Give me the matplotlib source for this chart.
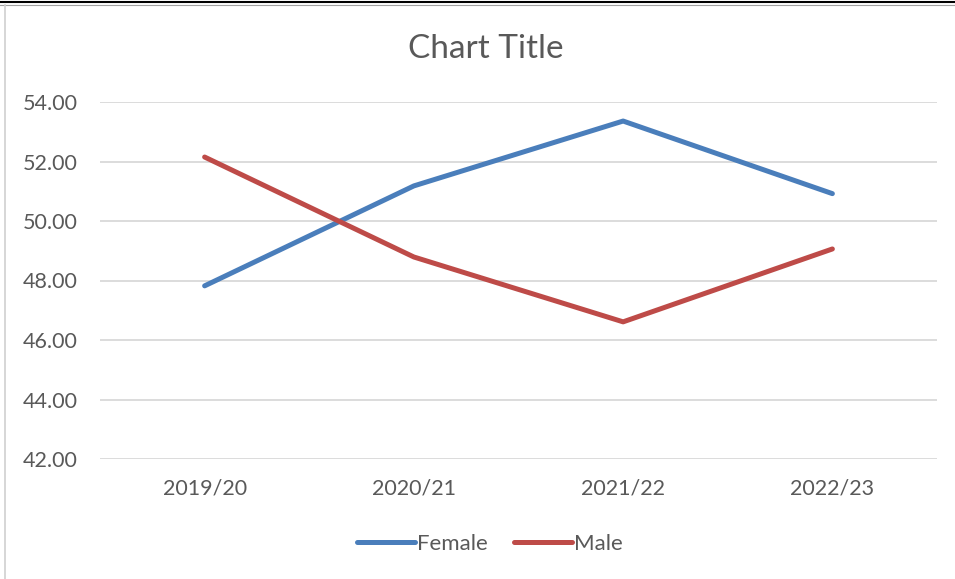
import matplotlib.pyplot as plt
from matplotlib.lines import Line2D

# chart data
years = ["2019/20", "2020/21", "2021/22", "2022/23"]
female = [47.82, 51.18, 53.36, 50.92]
male = [52.15, 48.79, 46.61, 49.06]

blue = "#4A7EBB"
red = "#BE4B48"
text_col = "#595959"
grid_col = "#D9D9D9"

plt.rcParams["font.family"] = ["Lato", "DejaVu Sans"]

fig = plt.figure(figsize=(9.55, 5.79), dpi=100)
ax = fig.add_axes([100 / 955, 1 - 459 / 579, (937 - 100) / 955, (459 - 102) / 579])

x = range(len(years))
ax.plot(x, female, color=blue, lw=3.6, solid_capstyle="round", solid_joinstyle="round", label="Female")
ax.plot(x, male, color=red, lw=3.6, solid_capstyle="round", solid_joinstyle="round", label="Male")

ax.set_xlim(-0.5, len(years) - 0.5)
ax.set_ylim(42, 54)
ax.set_yticks(range(42, 55, 2))
ax.set_yticklabels([f"{v:.2f}" for v in range(42, 55, 2)])
ax.set_xticks(list(x))
ax.set_xticklabels(years)

ax.grid(axis="y", color=grid_col, lw=1.3)
ax.set_axisbelow(True)
for s in ax.spines.values():
    s.set_visible(False)
ax.tick_params(length=0, labelsize=15.5, labelcolor=text_col)
ax.tick_params(axis="y", pad=16)
ax.tick_params(axis="x", pad=14)

fig.text(0.509, 1 - 49 / 579, "Chart Title", ha="center", va="center", fontsize=24, color=text_col)

handles = [Line2D([], [], color=blue, lw=3.6, solid_capstyle="round"),
           Line2D([], [], color=red, lw=3.6, solid_capstyle="round")]
fig.legend(handles, ["Female", "Male"], loc="center", bbox_to_anchor=(0.513, 1 - 544 / 579),
           ncol=2, frameon=False, fontsize=16, labelcolor=text_col,
           handlelength=2.6, handletextpad=0.1, columnspacing=1.2)

# frame edges from the screenshot
fig.add_artist(Line2D([0, 1], [1 - 2 / 579, 1 - 2 / 579], color="black", lw=1.5))
fig.add_artist(Line2D([0, 1], [1 - 4.5 / 579, 1 - 4.5 / 579], color="#A0A0A0", lw=0.8))
fig.add_artist(Line2D([5 / 955, 5 / 955], [0, 1 - 5 / 579], color="#D0D0D0", lw=1.2))

fig.savefig("out.png", dpi=100)
